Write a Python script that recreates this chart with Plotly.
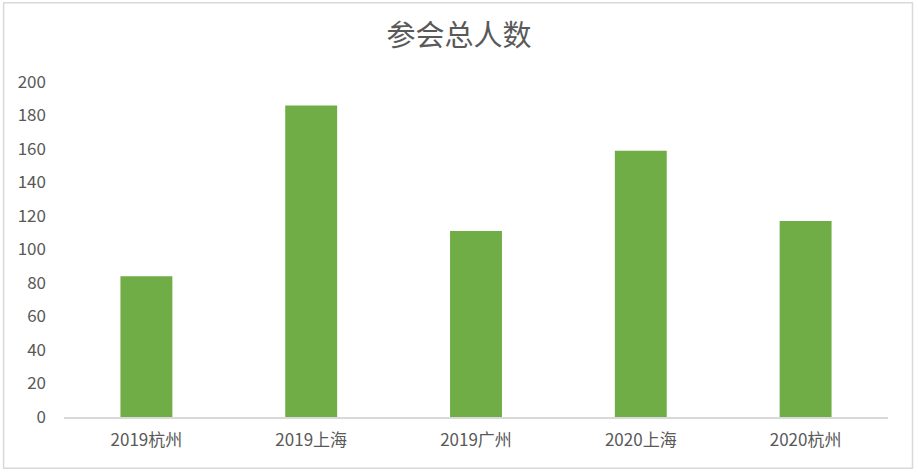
import plotly.graph_objects as go

# 参会总人数 per event
categories = ["2019杭州", "2019上海", "2019广州", "2020上海", "2020杭州"]
attendees = [84, 186, 111, 159, 117]
y_ticks = [0, 20, 40, 60, 80, 100, 120, 140, 160, 180, 200]

font_family = "'Noto Sans CJK SC', sans-serif"
text_color = "#595959"

fig = go.Figure()
fig.add_trace(go.Bar(
    x=categories,
    y=attendees,
    marker=dict(color="#70AD47", line=dict(width=0)),
    hoverinfo="x+y",
))

fig.update_layout(
    width=918,
    height=473,
    margin=dict(l=63.5, r=29.5, t=81.5, b=55.5),
    paper_bgcolor="white",
    plot_bgcolor="white",
    bargap=0.685,
    showlegend=False,
    font=dict(family=font_family, size=17, color=text_color),
    title=dict(
        text="参会总人数",
        x=0.5,
        xanchor="center",
        y=1 - 36 / 473,
        yanchor="middle",
        font=dict(family=font_family, size=29, color=text_color),
    ),
)

fig.update_xaxes(
    showline=True,
    linecolor="#D9D9D9",
    linewidth=1.5,
    showgrid=False,
    ticks="",
    tickfont=dict(size=17, color=text_color),
    ticklabelstandoff=7,
)
fig.update_yaxes(
    range=[0, 200],
    tickvals=y_ticks,
    showgrid=False,
    zeroline=False,
    showline=False,
    ticks="",
    ticklabelstandoff=17,
    tickfont=dict(size=17, color=text_color),
)

# light grey frame round the whole chart
fig.add_shape(
    type="rect",
    xref="paper", yref="paper",
    x0=-0.0733, x1=1.0297, y0=-0.1533, y1=1.2366,
    line=dict(color="#D9D9D9", width=1.5),
    fillcolor="rgba(0,0,0,0)",
    layer="below",
)

# drop the default page margin so the figure sits at the window's corner
fig.write_html(
    "out.html",
    config={"displayModeBar": False},
    post_script="document.body.style.margin='0';",
)
